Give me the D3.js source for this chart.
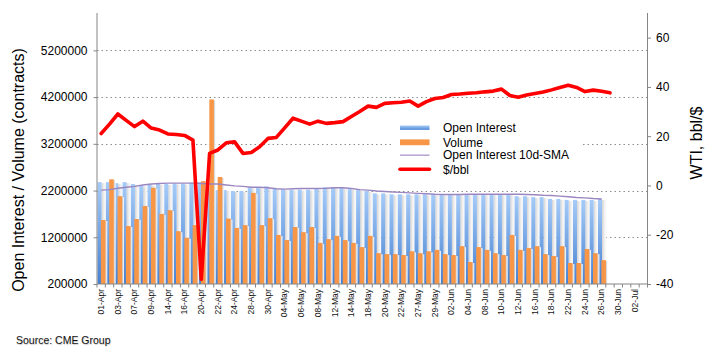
<!DOCTYPE html>
<html><head><meta charset="utf-8">
<script src="https://cdn.jsdelivr.net/npm/d3@7/dist/d3.min.js"></script>
<style>
html,body{margin:0;padding:0;background:#fff;}
svg{display:block;font-family:"Liberation Sans",Arial,sans-serif;}
</style></head>
<body><svg id="c" width="711" height="357"></svg>
<script>
const categories = ["01-Apr","02-Apr","03-Apr","06-Apr","07-Apr","08-Apr","09-Apr","13-Apr","14-Apr","15-Apr","16-Apr","17-Apr","20-Apr","21-Apr","22-Apr","23-Apr","24-Apr","27-Apr","28-Apr","29-Apr","30-Apr","01-May","04-May","05-May","06-May","07-May","08-May","11-May","12-May","13-May","14-May","15-May","18-May","19-May","20-May","21-May","22-May","26-May","27-May","28-May","29-May","01-Jun","02-Jun","03-Jun","04-Jun","05-Jun","08-Jun","09-Jun","10-Jun","11-Jun","12-Jun","15-Jun","16-Jun","17-Jun","18-Jun","19-Jun","22-Jun","23-Jun","24-Jun","25-Jun","26-Jun","29-Jun","30-Jun","01-Jul","02-Jul","03-Jul"];

// Open interest (contracts), 01-Apr .. 26-Jun
const openInterest = [2380000,2380000,2360000,2380000,2340000,2310000,2330000,2340000,2340000,2350000,2350000,2370000,2380000,2250000,2210000,2210000,2190000,2190000,2270000,2270000,2290000,2250000,2230000,2220000,2220000,2220000,2240000,2270000,2270000,2270000,2230000,2220000,2190000,2140000,2140000,2120000,2120000,2120000,2120000,2120000,2120000,2120000,2120000,2120000,2120000,2120000,2120000,2120000,2120000,2120000,2080000,2080000,2060000,2060000,2020000,2020000,2000000,2000000,2000000,2000000,2020000];

// Volume (contracts)
const volume = [1570000,2440000,2080000,1440000,1590000,1870000,2260000,1700000,1780000,1330000,1190000,1460000,2400000,4150000,2490000,1600000,1400000,1460000,2150000,1460000,1610000,1250000,1140000,1420000,1310000,1420000,1080000,1160000,1230000,1140000,1080000,990000,1230000,860000,840000,840000,820000,900000,860000,900000,930000,840000,820000,1010000,670000,990000,930000,860000,820000,1250000,930000,970000,1010000,840000,800000,1010000,650000,650000,950000,860000,710000];

// Open interest 10-day SMA
const oiSMA = [2210000,2220000,2250000,2270000,2290000,2320000,2340000,2350000,2360000,2360000,2360000,2360000,2350000,2340000,2340000,2320000,2300000,2290000,2270000,2270000,2260000,2240000,2230000,2240000,2245000,2245000,2245000,2250000,2260000,2260000,2245000,2220000,2210000,2190000,2180000,2170000,2160000,2150000,2140000,2130000,2120000,2117000,2117000,2117000,2120000,2120000,2120000,2120000,2120000,2120000,2120000,2117000,2110000,2100000,2095000,2080000,2066000,2050000,2044000,2030000,2020000];

// WTI $/bbl, 01-Apr .. 29-Jun
const wti = [21.1,24.9,29.0,26.4,23.9,26.1,23.3,22.5,20.9,20.7,20.3,18.4,-38.1,13.0,14.4,17.3,17.7,13.0,13.4,15.7,19.1,19.5,23.4,27.3,26.1,24.9,26.1,25.2,25.5,25.9,28.0,30.0,32.2,31.7,33.3,33.6,33.8,34.3,32.2,34.0,35.3,35.7,36.9,37.1,37.4,37.6,38.0,38.3,39.1,36.5,35.8,36.7,37.3,37.9,38.8,39.8,40.7,39.8,38.1,38.7,38.2,37.6];

const leftTicks = [200000,1200000,2200000,3200000,4200000,5200000];
const rightTicks = [-40,-20,0,20,40,60];
const seriesNames = ["Open Interest","Volume","Open Interest 10d-SMA","$/bbl"];

const svg = d3.select("#c");
const L = 97, R = 647.5, T = 13, B = 284;

const x = d3.scaleBand().domain(categories).range([L, R]).paddingInner(0).paddingOuter(0);
const yL = d3.scaleLinear().domain([200000, 6000000]).range([B, T]);
const yR = d3.scaleLinear().domain([-40, 70]).range([B, T]);
const bw = x.bandwidth();

const defs = svg.append("defs");
const gBlue = defs.append("linearGradient").attr("id","gBlue").attr("x1",0).attr("y1",0).attr("x2",0).attr("y2",1);
gBlue.append("stop").attr("offset","0%").attr("stop-color","#a6cbf8");
gBlue.append("stop").attr("offset","100%").attr("stop-color","#4581d2");
const gBlueH = defs.append("linearGradient").attr("id","gBlueL").attr("x1",0).attr("y1",0).attr("x2",0).attr("y2",1);
gBlueH.append("stop").attr("offset","0%").attr("stop-color","#a6cbf8");
gBlueH.append("stop").attr("offset","100%").attr("stop-color","#4f8ad6");
const gSh = defs.append("linearGradient").attr("id","gSh").attr("x1",0).attr("y1",0).attr("x2",1).attr("y2",0);
gSh.append("stop").attr("offset","0%").attr("stop-color","#d2d2d2");
gSh.append("stop").attr("offset","60%").attr("stop-color","#f3f3f3");
gSh.append("stop").attr("offset","100%").attr("stop-color","#fafafa");
const gSh2 = defs.append("linearGradient").attr("id","gSh2").attr("x1",0).attr("y1",0).attr("x2",1).attr("y2",0);
gSh2.append("stop").attr("offset","0%").attr("stop-color","#c8c8c8");
gSh2.append("stop").attr("offset","100%").attr("stop-color","#ffffff");

// gridlines
svg.append("g").selectAll("line").data(leftTicks.slice(1)).join("line")
  .attr("x1", L).attr("x2", R).attr("y1", d => Math.round(yL(d))+0.5).attr("y2", d => Math.round(yL(d))+0.5)
  .attr("stroke","#8c8c8c").attr("stroke-width",1).attr("stroke-dasharray","1.5,3");

const oiData = openInterest.map((v,i)=>({c:categories[i], v}));
const volData = volume.map((v,i)=>({c:categories[i], v}));

const blueOff = 0.55, blueW = 4.0, orOff = 3.9, orW = 4.6;
// shadows of OI bars
svg.append("g").selectAll("rect").data(oiData).join("rect")
  .attr("x", d => x(d.c)+blueOff+blueW).attr("width", bw-blueW)
  .attr("y", d => yL(d.v)+1).attr("height", d => B-yL(d.v)-1)
  .attr("fill","url(#gSh)");
// OI bars
svg.append("g").selectAll("rect").data(oiData).join("rect")
  .attr("x", d => x(d.c)+blueOff).attr("width", blueW)
  .attr("y", d => yL(d.v)).attr("height", d => B-yL(d.v))
  .attr("fill","url(#gBlue)");
// volume shadow
svg.append("g").selectAll("rect").data(volData).join("rect")
  .attr("x", d => x(d.c)+orOff+orW).attr("width", 1.8)
  .attr("y", d => yL(d.v)+1).attr("height", d => B-yL(d.v)-1)
  .attr("fill","url(#gSh2)");
// volume bars
svg.append("g").selectAll("rect").data(volData).join("rect")
  .attr("x", d => x(d.c)+orOff).attr("width", orW)
  .attr("y", d => yL(d.v)).attr("height", d => B-yL(d.v))
  .attr("fill","#f79646");

const cx = c => x(c) + bw/2;
// SMA line
svg.append("path").datum(oiSMA)
  .attr("d", d3.line().x((d,i)=>cx(categories[i])).y(d=>yL(d)))
  .attr("fill","none").attr("stroke","#9b86c0").attr("stroke-width",1.4);
// WTI line
svg.append("path").datum(wti)
  .attr("d", d3.line().x((d,i)=>cx(categories[i])).y(d=>yR(d)))
  .attr("fill","none").attr("stroke","#ff0000").attr("stroke-width",3.6)
  .attr("stroke-linejoin","round").attr("stroke-linecap","round");

// axes
const axisColor = "#858585";
const gl = svg.append("g").attr("transform",`translate(${L},0)`)
  .call(d3.axisLeft(yL).tickValues(leftTicks).tickFormat(d3.format("d")).tickSize(3.5).tickPadding(6));
const gr = svg.append("g").attr("transform",`translate(${R},0)`)
  .call(d3.axisRight(yR).tickValues(rightTicks).tickFormat(d => d).tickSize(3.5).tickPadding(5));
const gb = svg.append("g").attr("transform",`translate(0,${B})`)
  .call(d3.axisBottom(x).tickValues(categories.filter((d,i)=>i%2===0)).tickSize(0).tickPadding(0));
[gl,gr].forEach(g=>{
  g.select(".domain").attr("stroke",axisColor).attr("d", `M0,${T}V${B}`);
  g.selectAll(".tick line").attr("stroke",axisColor);
  g.selectAll("text").attr("font-size",12).attr("fill","#000").attr("font-family","Liberation Sans, Arial, sans-serif");
});
gb.select(".domain").attr("stroke",axisColor).attr("d",`M${L},0H${R}`);
gb.selectAll("text")
  .attr("font-size",8.5).attr("fill","#111").attr("font-family","Liberation Sans, Arial, sans-serif")
  .attr("text-anchor","end").attr("transform","rotate(-90)").attr("x",-5).attr("y",0).attr("dy","0.33em");
// category boundary ticks
svg.append("g").selectAll("line").data(categories.concat(["__end"])).join("line")
  .attr("x1",(d,i)=>L+i*bw).attr("x2",(d,i)=>L+i*bw).attr("y1",B).attr("y2",B+3.5)
  .attr("stroke",axisColor);

// axis titles
svg.append("text").attr("transform","translate(24,170) rotate(-90)").attr("text-anchor","middle")
  .attr("font-size",16).attr("fill","#000").text("Open Interest / Volume (contracts)");
svg.append("text").attr("transform","translate(702,143) rotate(-90)").attr("text-anchor","middle")
  .attr("font-size",16).attr("fill","#000").text("WTI, bbl/$");

// source
svg.append("text").attr("x",16).attr("y",344).attr("font-size",10.5).attr("fill","#111")
  .style("text-shadow","0.6px 0.8px 1px rgba(0,0,0,0.22)").text("Source: CME Group");

// legend
const lg = svg.append("g");
lg.append("rect").attr("x",393).attr("y",118).attr("width",190).attr("height",59).attr("fill","#fff");
const rows = [127.7,142.3,155.2,169.3];
const sx0 = 400, sx1 = 429.5;
lg.append("rect").attr("x",sx0).attr("y",rows[0]-2.2).attr("width",sx1-sx0).attr("height",4.4).attr("fill","url(#gBlueL)");
lg.append("rect").attr("x",sx0).attr("y",rows[1]-2.9).attr("width",sx1-sx0).attr("height",5.8).attr("fill","#f79646");
lg.append("line").attr("x1",sx0).attr("x2",sx1).attr("y1",rows[2]).attr("y2",rows[2]).attr("stroke","#b9a9d2").attr("stroke-width",1.6);
lg.append("line").attr("x1",sx0).attr("x2",sx1).attr("y1",rows[3]).attr("y2",rows[3]).attr("stroke","#ff0000").attr("stroke-width",3.6).attr("stroke-linecap","round");
lg.selectAll("text.lt").data(seriesNames).join("text").attr("class","lt")
  .attr("x",443).attr("y",(d,i)=>rows[i]).attr("dy","0.35em").attr("font-size",12).attr("fill","#000").text(d=>d);
</script></body></html>
